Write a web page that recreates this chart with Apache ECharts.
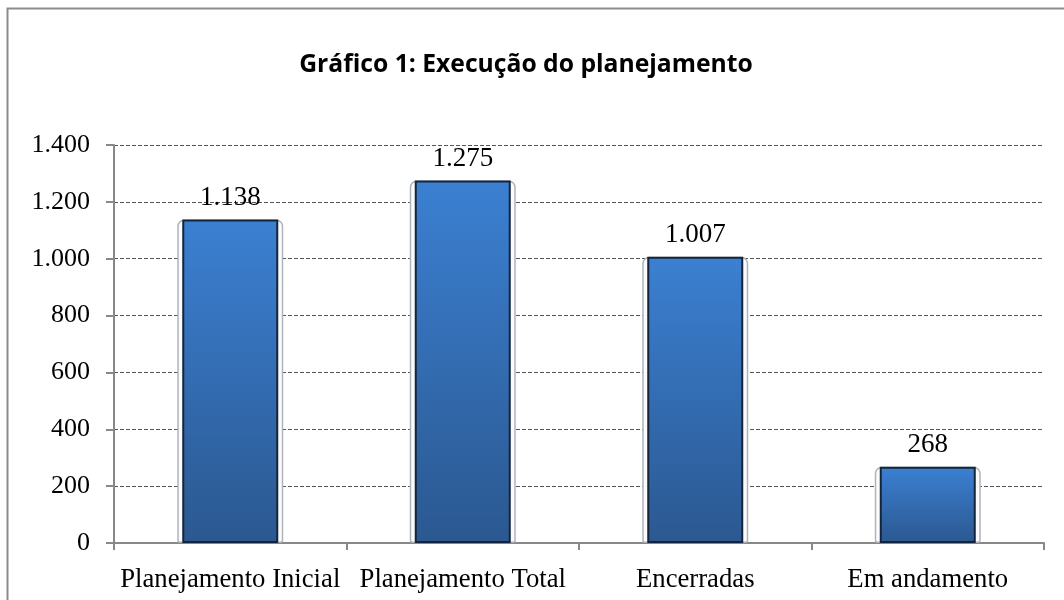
<!DOCTYPE html>
<html><head><meta charset="utf-8">
<script src="https://cdn.jsdelivr.net/npm/echarts@6/dist/echarts.min.js"></script>
<style>html,body{margin:0;padding:0;background:#fff}#c{width:1064px;height:600px}</style>
</head><body><div id="c"></div>
<script>
const categories = ['Planejamento Inicial', 'Planejamento Total', 'Encerradas', 'Em andamento'];
const values = [1138, 1275, 1007, 268];
const yTicks = [0, 200, 400, 600, 800, 1000, 1200, 1400];
const titleText = 'Gráfico 1: Execução do planejamento';

function fmt(v){ return String(v).replace(/\B(?=(\d{3})+(?!\d))/g, '.'); }

const chart = echarts.init(document.getElementById('c'));
const serif = '"Liberation Serif", "Times New Roman", serif';
chart.setOption({
  animation: false,
  backgroundColor: '#fff',
  title: { text: titleText, left: 521, top: 47, textAlign: 'center',
    textStyle: { fontFamily: '"Open Sans", sans-serif', fontWeight: 'bold', fontSize: 24.7, color: '#000' } },
  graphic: [{ type: 'rect', shape: { x: 7.5, y: 8.5, width: 1100, height: 700 }, silent: true,
    style: { fill: 'none', stroke: '#8c8c8c', lineWidth: 2 }, z: -10 }],
  grid: { left: 114, right: 20, top: 145, bottom: 57 },
  xAxis: [{
    type: 'category', data: categories,
    axisLine: { lineStyle: { color: '#888', width: 2 } },
    axisTick: { show: true, length: 7, lineStyle: { color: '#888', width: 2 } },
    axisLabel: { fontFamily: serif, fontSize: 26.7, color: '#000', margin: 23, interval: 0 }
  }, {
    type: 'category', data: categories, show: false, position: 'bottom'
  }],
  yAxis: {
    type: 'value', min: 0, max: 1400, interval: 200,
    axisLine: { show: true, lineStyle: { color: '#888', width: 2 } },
    axisTick: { show: true, length: 8, lineStyle: { color: '#888', width: 2 } },
    axisLabel: { fontFamily: serif, fontSize: 26, color: '#000', margin: 24, formatter: v => fmt(v) },
    splitLine: { lineStyle: { color: '#555', type: [4, 2], width: 1 } }
  },
  series: [{
    type: 'bar', xAxisIndex: 1, data: values, barWidth: 106, z: 1, silent: true,
    itemStyle: { color: '#fbfbfc', borderColor: '#aeb4bd', borderWidth: 1.5, borderRadius: [6, 6, 2, 2] }
  }, {
    type: 'bar', xAxisIndex: 0, data: values, barWidth: 96, z: 3,
    itemStyle: {
      color: new echarts.graphic.LinearGradient(0, 0, 0, 1, [
        { offset: 0, color: '#3b80d2' }, { offset: 1, color: '#2b5890' }]),
      borderColor: '#15243a', borderWidth: 2
    },
    label: { show: true, position: 'top', distance: 8, fontFamily: serif, fontSize: 27, color: '#000',
      formatter: p => fmt(p.value) }
  }]
});
</script></body></html>
